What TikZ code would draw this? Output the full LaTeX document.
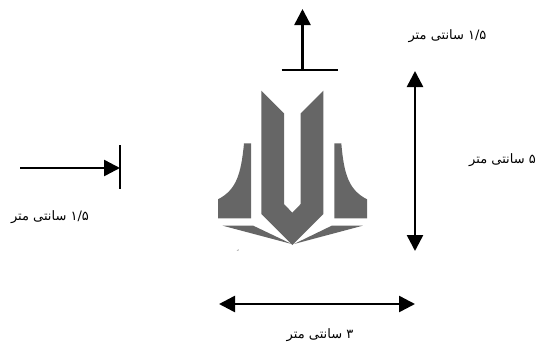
\documentclass[tikz,border=0pt]{standalone}
\usepackage{fontspec}
\usetikzlibrary{arrows.meta}
\TeXXeTstate=1
\newfontfamily\arabicfont[Script=Arabic]{DejaVu Sans}
\tikzset{
  dim/.style={line width=2.5pt,black},
  tip/.style={-{Triangle[length=16pt,width=16pt]}},
  tiptwo/.style={{Triangle[length=16pt,width=16pt]}-{Triangle[length=16pt,width=16pt]}},
  tick/.style={line width=1.3pt,black},
  logo/.style={fill=logogray,draw=none},
  lab/.style={font=\arabicfont\fontsize{13}{15}\selectfont,inner sep=0pt,text=black}
}
\definecolor{logogray}{HTML}{666666}
\begin{document}
\begin{tikzpicture}[x=1pt,y=-1pt]
\useasboundingbox (0,0) rectangle (537,343);
% logo
\fill[logo] (261.3,90.7) -- (284,113.3) -- (284,204) -- (292.3,212.7) -- (300.7,204) -- (300.7,113.3) -- (323.3,90.7) -- (323.3,214) -- (292.3,245) -- (261.3,214) -- cycle;
\fill[logo] (244,143.3) -- (251,143.3) -- (251,218.3) -- (218,218.3) -- (218,199.3) .. controls (236,190) and (241,175) .. cycle;
\fill[logo] (334.3,143.3) -- (341.3,143.3) .. controls (344,175) and (349,190) .. (367,199.3) -- (367,218.3) -- (334.3,218.3) -- cycle;
\fill[logo] (222.7,225.7) -- (253.3,225.7) -- (291.7,244) -- cycle;
\fill[logo] (362.7,225.7) -- (331.7,225.7) -- (294,244) -- cycle;
\fill[logo,opacity=.6] (236.6,250.6) -- (238.6,249.2) -- (238.4,250.8) -- cycle;
% top arrow
\coordinate (topbase) at (302.5,70);
\coordinate (toptip) at (302.5,9);
\coordinate (barL) at (281.5,70);
\coordinate (barR) at (338,70);
\draw[tick] (barL) -- (barR);
\draw[dim,tip] (topbase) -- (toptip);
% height arrow
\coordinate (hTop) at (415,71);
\coordinate (hBot) at (415,251);
\draw[dim,tiptwo] (hTop) -- (hBot);
% left arrow
\coordinate (lStart) at (20,168);
\coordinate (lEnd) at (120,168);
\coordinate (lbarT) at (120,145);
\coordinate (lbarB) at (120,189);
\draw[tick] (lbarT) -- (lbarB);
\draw[dim,tip] (lStart) -- (lEnd);
% width arrow
\coordinate (wL) at (219,304);
\coordinate (wR) at (415,304);
\draw[dim,tiptwo] (wL) -- (wR);
% labels
\node[lab] (t1) at (447.5,36.5) {\beginR\beginL ۱/۵\endL{} سانتی متر\endR};
\node[lab] (t2) at (502.5,160.5) {\beginR ۵ سانتی متر\endR};
\node[lab] (t3) at (50,217.5) {\beginR\beginL ۱/۵\endL{} سانتی متر\endR};
\node[lab] (t4) at (320,335.5) {\beginR ۳ سانتی متر\endR};
\end{tikzpicture}
\end{document}
